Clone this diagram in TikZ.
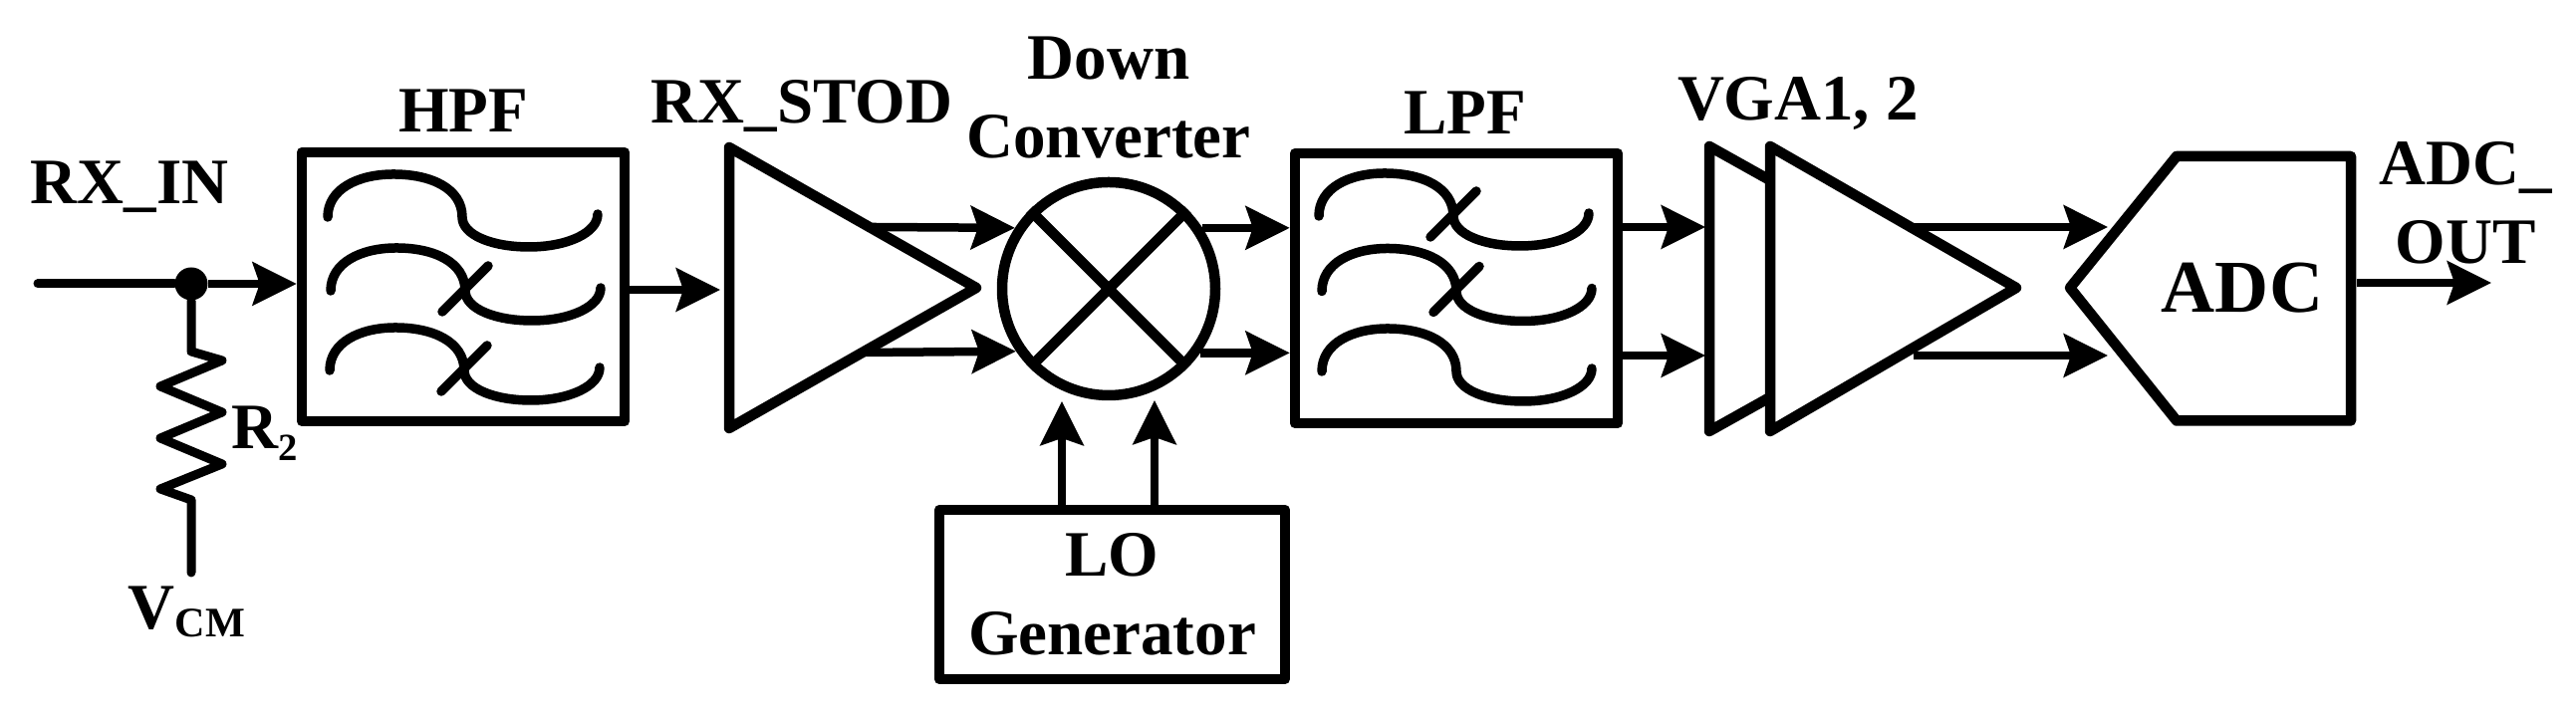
\documentclass[tikz,border=0pt]{standalone}
\usepackage{fontspec}
\setmainfont{Liberation Serif}
\usetikzlibrary{arrows.meta,calc}

\begin{document}
\begin{tikzpicture}
	\tikzset{
		lbl/.style={inner sep=0pt,font=\bfseries\fontsize{18.5}{22.5}\selectfont},
		blk/.style={line width=.105cm,line join=round},
		box/.style={draw,blk,lbl,align=center},
		wire/.style={line width=.09cm,line join=round,line cap=round},
		sig/.style={line width=.085cm,-{Stealth[length=.44cm,width=.43cm,inset=.07cm]}},
		curve/.style={line width=.095cm,line cap=round},
		wave/.pic={\draw[curve] (0,0) .. controls (0,.28) and (.3,.43) .. (.66,.43) .. controls (1.05,.43) and (1.35,.28) .. (1.35,0) .. controls (1.35,-.18) and (1.65,-.30) .. (2.02,-.30) .. controls (2.4,-.30) and (2.71,-.16) .. (2.71,.03);},
		waveslash/.pic={\pic {wave}; \draw[curve] (1.12,-.21) -- (1.58,.25);}
	}
	\useasboundingbox (0,0) rectangle (25.86,7.2);

	\node[box,minimum width=3.24cm,minimum height=2.70cm] (hpf) at (4.65,4.32) {};
	\node[box,minimum width=3.24cm,minimum height=2.71cm] (lpf) at (14.62,4.305) {};
	\node[box,minimum width=3.47cm,minimum height=1.70cm] (lo) at (11.165,1.23) {LO\\Generator};
	\node[draw,blk,circle,inner sep=0pt,minimum size=2.14cm] (mix) at (11.13,4.30) {};
	\node[circle,fill,inner sep=0pt,minimum size=.33cm] (dot) at (1.92,4.35) {};

	\pic at (3.29,5.02) {wave};
	\pic at (3.32,4.28) {waveslash};
	\pic at (3.31,3.48) {waveslash};
	\pic at (13.24,5.03) {waveslash};
	\pic at (13.27,4.275) {waveslash};
	\pic at (13.27,3.47) {wave};

	\draw[blk] (mix.45) -- (mix.225) (mix.135) -- (mix.-45);
	\draw[blk] (7.32,5.72) -- (9.80,4.31) -- (7.32,2.90) -- cycle;
	\draw[blk] (17.75,5.40) -- (17.16,5.73) -- (17.16,2.87) -- (17.75,3.20);
	\draw[blk] (17.77,5.73) -- (20.24,4.31) -- (17.77,2.87) -- cycle;
	\draw[blk] (20.78,4.31) -- (21.85,5.63) -- (23.60,5.63) -- (23.60,2.975) -- (21.85,2.975) -- cycle;

	\coordinate (rxin) at (.38,4.35);
	\coordinate (vcm) at (1.92,1.45);
	\coordinate (stodin) at (7.23,4.29);
	\coordinate (stod1) at (8.76,4.92);
	\coordinate (stod2) at (8.68,3.66);
	\coordinate (mixa) at (10.66,3.17);
	\coordinate (mixb) at (11.59,3.18);
	\coordinate (vgain1) at (17.12,4.92);
	\coordinate (vgain2) at (17.12,3.63);
	\coordinate (vga1) at (19.21,4.92);
	\coordinate (vga2) at (19.21,3.63);
	\coordinate (adcin1) at (21.16,4.92);
	\coordinate (adcin2) at (21.16,3.63);
	\coordinate (adco) at (23.66,4.36);
	\coordinate (adcout) at (25.01,4.36);

	\draw[wire] (rxin) -- (dot);
	\draw[sig] (dot) -- (dot -| hpf.west);
	\draw[wire] (dot) -- ++(0,-.68) -- ++(.31,-.09) -- ++(-.62,-.26) -- ++(.62,-.26) -- ++(-.62,-.26) -- ++(.62,-.26) -- ++(-.62,-.25) -- ++(.31,-.11) -- (vcm);
	\draw[sig] (stodin -| hpf.east) -- (stodin);
	\draw[sig] (stod1) -- (mix.147);
	\draw[sig] (stod2) -- (mix.214);
	\draw[sig] (mix.33) -- (mix.33 -| lpf.west);
	\draw[sig] (mix.-35) -- (mix.-35 -| lpf.west);
	\draw[sig] (lo.north -| mixa) -- (mixa);
	\draw[sig] (lo.north -| mixb) -- (mixb);
	\draw[sig] (vgain1 -| lpf.east) -- (vgain1);
	\draw[sig] (vgain2 -| lpf.east) -- (vgain2);
	\draw[sig] (vga1) -- (adcin1);
	\draw[sig] (vga2) -- (adcin2);
	\draw[sig] (adco) -- (adcout);

	\node[lbl,anchor=base] (rxinlbl) at (1.30,5.15) {RX\_IN};
	\node[lbl,anchor=base] (hpflbl) at (4.65,5.87) {HPF};
	\node[lbl,anchor=base] (stodlbl) at (8.05,5.96) {RX\_STOD};
	\node[lbl,align=center] (mixlbl) at (11.13,6.22) {Down\\Converter};
	\node[lbl,anchor=base] (lpflbl) at (14.71,5.855) {LPF};
	\node[lbl,anchor=base] (vgalbl) at (18.05,5.99) {VGA1, 2};
	\node[lbl,anchor=base,font=\bfseries\fontsize{21.3}{25}\selectfont] (adclbl) at (22.51,4.06) {ADC};
	\node[lbl,align=center] (outlbl) at (24.75,5.16) {ADC\_\\OUT};
	\node[lbl,anchor=base west] (rlbl) at (2.32,2.69) {R\raisebox{-.12cm}{\fontsize{11}{11}\selectfont 2}};
	\node[lbl,anchor=base west] (vcmlbl) at (1.28,.88) {V\raisebox{-.08cm}{\fontsize{12}{12}\selectfont CM}};
\end{tikzpicture}
\end{document}
